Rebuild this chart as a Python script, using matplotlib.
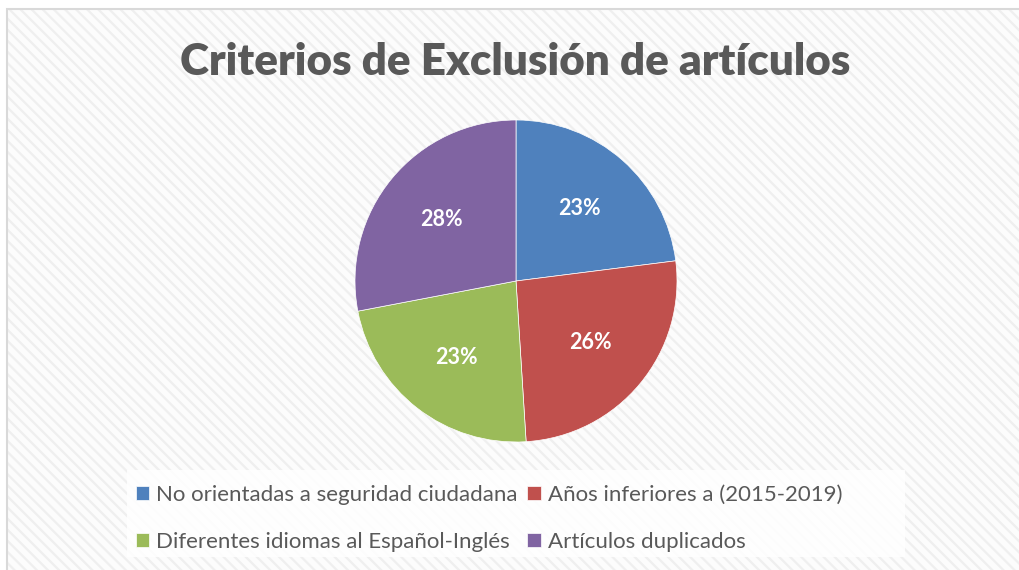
import matplotlib
matplotlib.use("Agg")
import matplotlib.pyplot as plt
from matplotlib.patches import Rectangle

categories = ["No orientadas a seguridad ciudadana", "Años inferiores a (2015-2019)",
              "Diferentes idiomas al Español-Inglés", "Artículos duplicados"]
values = [23, 26, 23, 28]
colors = ["#4F81BD", "#C0504D", "#9BBB59", "#8064A2"]
title = "Criterios de Exclusión de artículos"

plt.rcParams['font.family'] = ['Lato', 'DejaVu Sans']
plt.rcParams['hatch.linewidth'] = 1.6

W, H = 1019, 570
fig = plt.figure(figsize=(W / 100, H / 100), dpi=100)
fig.patch.set_facecolor('white')

# chart area background with diagonal stripes and light border
bg = Rectangle((7 / W, 0), 1.1, (H - 9) / H, transform=fig.transFigure,
               facecolor='#fcfcfc', edgecolor='#efefef', linewidth=0,
               hatch='\\\\\\', zorder=0)
fig.add_artist(bg)
border = Rectangle((7 / W, -0.1), 1.1, (H - 9) / H + 0.1, transform=fig.transFigure,
                   facecolor='none', edgecolor='#d9d9d9', linewidth=1.5, zorder=1)
fig.add_artist(border)

# legend box
lbox = Rectangle((127 / W, 1 - 557 / H), (905 - 127) / W, (557 - 470) / H,
                 transform=fig.transFigure, facecolor='white', edgecolor='none',
                 alpha=0.85, zorder=1)
fig.add_artist(lbox)

cx, cy, r = 516, 281, 161
ax = fig.add_axes([(cx - r) / W, (H - cy - r) / H, 2 * r / W, 2 * r / H])
ax.set_facecolor('none')
wedges, texts, autotexts = ax.pie(values, colors=colors, startangle=90, counterclock=False,
                                  autopct='%1.0f%%', pctdistance=0.6,
                                  wedgeprops=dict(edgecolor='white', linewidth=0.5),
                                  textprops=dict(color='white', fontsize=15.5, fontweight='bold'))
ax.set_xlim(-1, 1)
ax.set_ylim(-1, 1)
ax.set_aspect('equal')
ax.axis('off')

fig.text(515 / W, 1 - 75 / H, title, ha='center', va='baseline', fontsize=31.7,
         fontweight='heavy', color='#595959')

order = [0, 2, 1, 3]
leg = fig.legend([wedges[i] for i in order], [categories[i] for i in order], ncol=2,
                 loc='center left', bbox_to_anchor=(136 / W, 1 - 518.5 / H),
                 frameon=False, fontsize=16, handlelength=0.6, handleheight=0.6,
                 handletextpad=0.32, columnspacing=0.42, labelspacing=1.2,
                 borderpad=0, borderaxespad=0, labelcolor='#595959')
leg.set_zorder(2)

fig.savefig('out.png', dpi=100)
